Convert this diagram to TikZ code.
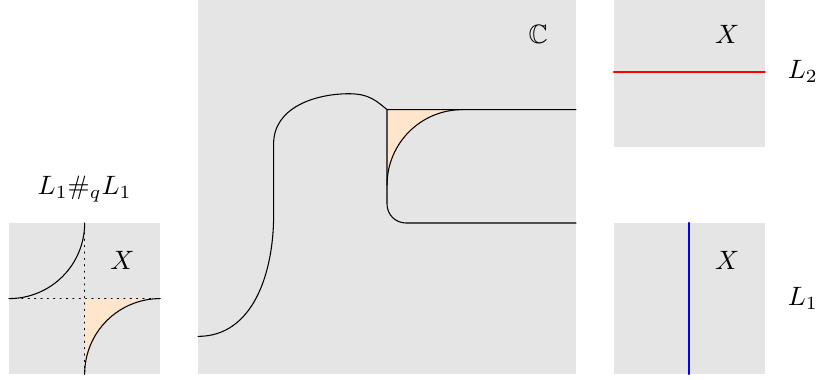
\documentclass[tikz,border=0pt]{standalone}
\usepackage{amssymb}
\begin{document}
\begin{tikzpicture}[line join=round, line cap=round, scale=0.5]
			\tikzset{box style/.style={fill=gray!20}, piece style/.style={fill=orange!20}}
			\useasboundingbox (-5.24,-0.13) rectangle (16.43,9.9);
			% local model
			\fill[box style] (-5,0) rectangle (-1,4);
			\fill[piece style] (-3,2) -- (-3,0) to[out=90,in=180] (-1,2) -- cycle;
			\draw[dotted] (-5,2) -- (-1,2);
			\draw[dotted] (-3,0) -- (-3,4);
			\draw (-5,2) to[out=0,in=-90] (-3,4);
			\draw (-3,0) to[out=90,in=180] (-1,2);
			\node (X0) at (-2,3) {$X$};
			\node (sum) at (-3,4.9) {$L_1\#_q L_1$};
			% the plane
			\fill[box style] (0,0) rectangle (10,10);
			\fill[piece style] (5,7) -- (5,5) to[out=90,in=180] (7,7) -- cycle;
			\draw (0,1) to[out=0,in=-90] (2,4.2) -- (2,6.1) to[out=90,in=180] (4,7.42) .. controls (4.55,7.42) and (4.75,7.2) .. (5,7) -- (10,7);
			\draw (5,7) -- (5,4.5) to[out=-90,in=180] (5.5,4) -- (10,4);
			\draw (5,5) to[out=90,in=180] (7,7);
			\node (C) at (9,9) {$\mathbb{C}$};
			% the two pieces
			\fill[box style] (11,6) rectangle (15,10);
			\draw[red, line width=0.6pt] (11,8) -- (15,8);
			\node (X2) at (14,9) {$X$};
			\node (L2) at (16,8) {$L_2$};
			\fill[box style] (11,0) rectangle (15,4);
			\draw[blue, line width=0.8pt] (13,0) -- (13,4);
			\node (X1) at (14,3) {$X$};
			\node (L1) at (16,2) {$L_1$};
\end{tikzpicture}
\end{document}
